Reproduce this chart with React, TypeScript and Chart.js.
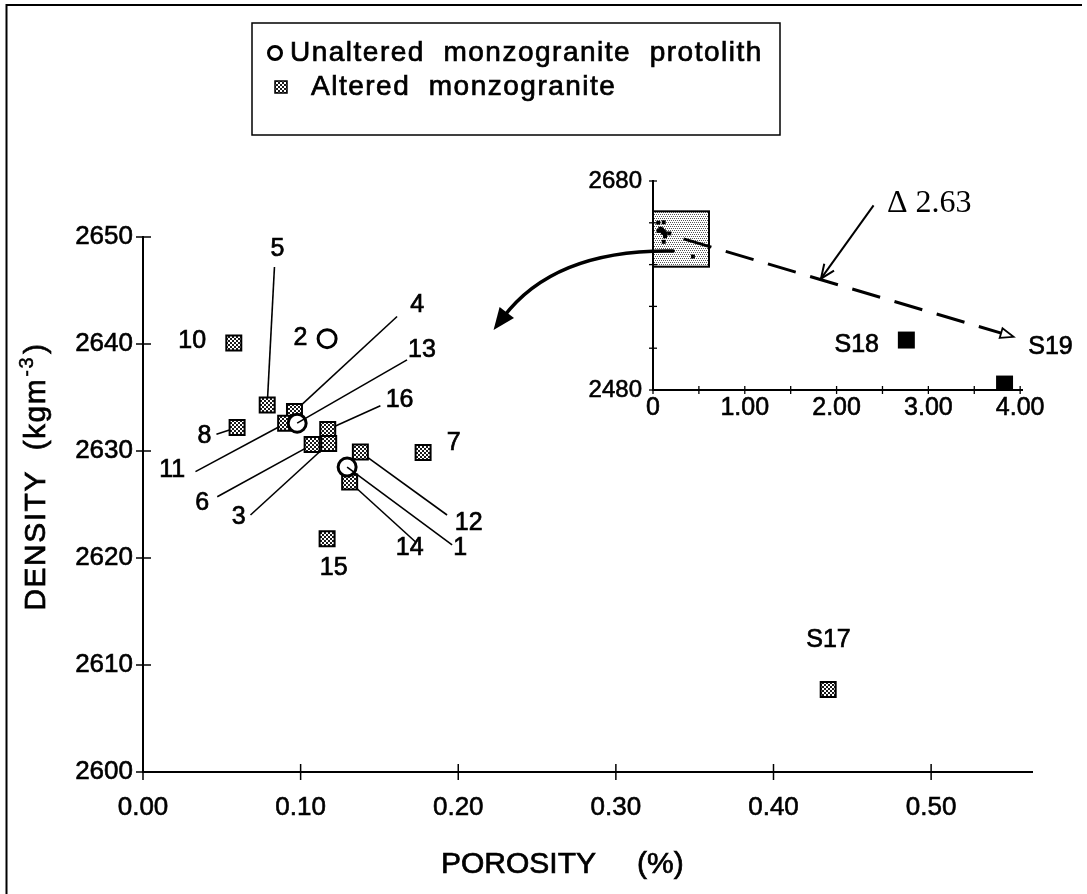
import React, { useEffect, useRef } from 'react';
import { Chart, registerables } from 'chart.js';

Chart.register(...registerables);

const FONT = '"Liberation Sans", Arial, Helvetica, sans-serif';
const SERIF = '"Liberation Serif", "Times New Roman", Times, serif';

// ---------------- data (main plot) ----------------
const unalteredLabels = ['2', '13', '1'];
const unalteredPorosity = [0.1168, 0.0978, 0.1295];
const unalteredDensity = [2640.5, 2632.6, 2628.5];

const alteredLabels = ['10', '5', '4', '8', '11', '16', '3', '6', '12', '7', '14', '15', 'S17'];
const alteredPorosity = [0.0576, 0.0788, 0.0961, 0.0597, 0.0905, 0.1172, 0.1178, 0.1073, 0.1379, 0.1777, 0.1311, 0.1168, 0.4347];
const alteredDensity = [2640.1, 2634.3, 2633.7, 2632.2, 2632.6, 2632.0, 2630.7, 2630.6, 2629.9, 2629.85, 2627.1, 2621.8, 2607.7];

const xTickLabels = ['0.00', '0.10', '0.20', '0.30', '0.40', '0.50'];
const yTickLabels = ['2600', '2610', '2620', '2630', '2640', '2650'];

// ---------------- data (inset) ----------------
const insetLabels = ['S18', 'S19'];
const insetPorosity = [2.76, 3.83];
const insetDensity = [2527.8, 2485.7];
const insetXTickLabels = ['0', '1.00', '2.00', '3.00', '4.00'];
const insetYTickLabels = ['2480', '2680'];
const deltaText = '\u0394 2.63';

// ---------------- annotation anchors (data units) ----------------
// x,y: label centre; lx,ly: start of the leader line (ends at the sample)
const labelAnchors: Record<string, { x: number; y: number; lx?: number; ly?: number }> = {
  '2': { x: 0.0999, y: 2640.58 },
  '13': { x: 0.177, y: 2639.39, lx: 0.1675, ly: 2638.52 },
  '1': { x: 0.2013, y: 2620.91, lx: 0.1961, ly: 2621.22 },
  '10': { x: 0.0312, y: 2640.23 },
  '5': { x: 0.0853, y: 2648.9, lx: 0.0834, ly: 2647.2 },
  '4': { x: 0.1739, y: 2643.67, lx: 0.1612, ly: 2642.57 },
  '8': { x: 0.039, y: 2631.35, lx: 0.0466, ly: 2631.57 },
  '11': { x: 0.0185, y: 2628.23, lx: 0.0333, ly: 2628.07 },
  '16': { x: 0.1628, y: 2634.71, lx: 0.1506, ly: 2634.22 },
  '3': { x: 0.0607, y: 2623.81, lx: 0.0682, ly: 2624.02 },
  '6': { x: 0.0375, y: 2625.14, lx: 0.0471, ly: 2625.73 },
  '12': { x: 0.2066, y: 2623.25, lx: 0.1929, ly: 2624.02 },
  '7': { x: 0.1971, y: 2630.73 },
  '14': { x: 0.1692, y: 2620.91, lx: 0.1728, ly: 2621.52 },
  '15': { x: 0.121, y: 2619.04 },
  S17: { x: 0.4349, y: 2612.33 },
};
const insetLabelAnchors: Record<string, { x: number; y: number }> = {
  S18: { x: 2.22, y: 2523 },
  S19: { x: 4.33, y: 2521 },
};
const insetBox = { x0: 0, x1: 0.61, y0: 2598, y1: 2651 };
const dashedArrow = { x0: 0.333, y0: 2624.6, x1: 3.928, y1: 2530.9 };
const deltaAnchor = { x: 3.01, y: 2658.7 };
const deltaArrow = { x0: 2.403, y0: 2656.7, x1: 1.83, y1: 2586.6 };
const curveStart = { x: 0.22, y: 2613 }; // inset units
const curveTip = { x: 0.2224, y: 2641.3 }; // main units

const W = 1087;
const H = 894;
const INSET_LEFT = 460;
const INSET_TOP = 150;
const INSET_W = 627;
const INSET_H = 300;

function stipple(kind: 'dark' | 'light'): CanvasPattern | string {
  const c = document.createElement('canvas');
  c.width = 4;
  c.height = 4;
  const g = c.getContext('2d');
  if (!g) return '#888';
  g.fillStyle = '#fff';
  g.fillRect(0, 0, 4, 4);
  if (kind === 'dark') {
    g.fillStyle = '#1a1a1a';
    g.fillRect(0, 0, 2, 2);
    g.fillRect(2, 2, 2, 2);
  } else {
    g.fillStyle = '#555';
    g.fillRect(0, 0, 1, 1);
    g.fillRect(2, 0, 1, 1);
    g.fillRect(1, 2, 1, 1);
    g.fillRect(3, 2, 1, 1);
  }
  return g.createPattern(c, 'repeat') || '#888';
}

function heavyText(ctx: CanvasRenderingContext2D, t: string, x: number, y: number, sw = 0.7) {
  ctx.fillText(t, x, y);
  ctx.save();
  ctx.lineWidth = sw;
  ctx.strokeStyle = ctx.fillStyle as any;
  ctx.strokeText(t, x, y);
  ctx.restore();
}

function arrowHead(
  ctx: CanvasRenderingContext2D,
  tipX: number,
  tipY: number,
  fromX: number,
  fromY: number,
  len: number,
  halfW: number,
  mode: 'fill' | 'open' | 'v'
) {
  const a = Math.atan2(tipY - fromY, tipX - fromX);
  const bx = tipX - len * Math.cos(a);
  const by = tipY - len * Math.sin(a);
  const px = -Math.sin(a) * halfW;
  const py = Math.cos(a) * halfW;
  ctx.beginPath();
  ctx.moveTo(bx + px, by + py);
  ctx.lineTo(tipX, tipY);
  ctx.lineTo(bx - px, by - py);
  if (mode !== 'v') ctx.closePath();
  if (mode === 'fill') ctx.fill();
  else if (mode === 'open') {
    ctx.fillStyle = '#fff';
    ctx.fill();
    ctx.stroke();
  } else ctx.stroke();
}

export default function App() {
  const mainRef = useRef<HTMLCanvasElement>(null);
  const insetRef = useRef<HTMLCanvasElement>(null);

  useEffect(() => {
    document.body.style.margin = '0';
    if (!mainRef.current || !insetRef.current) return;
    const darkPat = stipple('dark');
    const lightPat = stipple('light');

    const mainDecor = {
      id: 'mainDecor',
      beforeDatasetsDraw(chart: any) {
        const { ctx, scales } = chart;
        const x = scales.x;
        const y = scales.y;
        ctx.save();
        ctx.strokeStyle = '#000';
        ctx.lineWidth = 1.6;
        alteredLabels.forEach((lab, i) => {
          const p = labelAnchors[lab];
          if (p && p.lx !== undefined && p.ly !== undefined) {
            ctx.beginPath();
            ctx.moveTo(x.getPixelForValue(p.lx), y.getPixelForValue(p.ly));
            ctx.lineTo(x.getPixelForValue(alteredPorosity[i]), y.getPixelForValue(alteredDensity[i]));
            ctx.stroke();
          }
        });
        ctx.restore();
      },
      afterDatasetsDraw(chart: any) {
        const { ctx, scales, chartArea } = chart;
        const x = scales.x;
        const y = scales.y;
        ctx.save();
        ctx.strokeStyle = '#000';
        ctx.fillStyle = '#000';
        // leader lines for circles (drawn over the marker, to its centre)
        ctx.lineWidth = 1.6;
        unalteredLabels.forEach((lab, i) => {
          const p = labelAnchors[lab];
          if (p && p.lx !== undefined && p.ly !== undefined) {
            ctx.beginPath();
            ctx.moveTo(x.getPixelForValue(p.lx), y.getPixelForValue(p.ly));
            ctx.lineTo(x.getPixelForValue(unalteredPorosity[i]), y.getPixelForValue(unalteredDensity[i]));
            ctx.stroke();
          }
        });
        // sample labels
        ctx.font = `25px ${FONT}`;
        ctx.textAlign = 'center';
        ctx.textBaseline = 'middle';
        [...unalteredLabels, ...alteredLabels].forEach((lab) => {
          const p = labelAnchors[lab];
          if (p) heavyText(ctx, lab, x.getPixelForValue(p.x), y.getPixelForValue(p.y));
        });

        // crossing tick marks
        ctx.lineWidth = 1.5;
        x.ticks.forEach((t: any) => {
          const px = x.getPixelForValue(t.value);
          ctx.beginPath();
          ctx.moveTo(px, chartArea.bottom - 8);
          ctx.lineTo(px, chartArea.bottom + 8);
          ctx.stroke();
        });
        y.ticks.forEach((t: any) => {
          const py = y.getPixelForValue(t.value);
          ctx.beginPath();
          ctx.moveTo(chartArea.left - 7, py);
          ctx.lineTo(chartArea.left + 8, py);
          ctx.stroke();
        });

        // x title
        ctx.font = `30px ${FONT}`;
        ctx.textBaseline = 'middle';
        ctx.textAlign = 'left';
        heavyText(ctx, 'POROSITY', chartArea.left + 298, 865);
        heavyText(ctx, '(%)', chartArea.left + 494, 865);

        // y title (rotated, with superscript)
        ctx.translate(45, (chartArea.top + chartArea.bottom) / 2 - 28);
        ctx.rotate(-Math.PI / 2);
        (ctx as any).letterSpacing = '1.5px';
        ctx.textBaseline = 'alphabetic';
        ctx.font = `30px ${FONT}`;
        const a = 'DENSITY  (kgm';
        const wa = ctx.measureText(a).width;
        ctx.font = `20px ${FONT}`;
        const ws = ctx.measureText('-3').width;
        ctx.font = `30px ${FONT}`;
        const wc = ctx.measureText(')').width;
        let x0 = -(wa + ws + wc + 3) / 2;
        heavyText(ctx, a, x0, 0);
        x0 += wa + 1;
        ctx.font = `20px ${FONT}`;
        heavyText(ctx, '-3', x0, -12, 0.5);
        x0 += ws + 2;
        ctx.font = `30px ${FONT}`;
        heavyText(ctx, ')', x0, 0);
        ctx.restore();

        // legend box
        ctx.save();
        ctx.fillStyle = '#fff';
        ctx.strokeStyle = '#000';
        ctx.lineWidth = 1.5;
        ctx.fillRect(252, 23, 528, 112);
        ctx.strokeRect(252, 23, 528, 112);
        ctx.beginPath();
        ctx.arc(275, 53, 6.5, 0, Math.PI * 2);
        ctx.lineWidth = 3;
        ctx.stroke();
        ctx.fillStyle = darkPat as any;
        ctx.fillRect(275, 81, 12, 12);
        ctx.lineWidth = 1.5;
        ctx.strokeRect(275, 81, 12, 12);
        ctx.fillStyle = '#000';
        (ctx as any).letterSpacing = '1.5px';
        ctx.font = `28px ${FONT}`;
        ctx.textBaseline = 'middle';
        ctx.textAlign = 'left';
        heavyText(ctx, chart.data.datasets[0].label, 290, 53);
        heavyText(ctx, chart.data.datasets[1].label, 311, 87);
        ctx.restore();

        // figure frame (left & top)
        ctx.save();
        ctx.strokeStyle = '#000';
        ctx.lineWidth = 2;
        ctx.beginPath();
        ctx.moveTo(1082, 5);
        ctx.lineTo(6.5, 5);
        ctx.lineTo(6.5, H);
        ctx.stroke();
        ctx.restore();
      },
    };

    const tickFont = (size: number) => ({ family: FONT, size });

    const main = new Chart(mainRef.current, {
      type: 'scatter',
      data: {
        datasets: [
          {
            label: 'Unaltered  monzogranite  protolith',
            data: unalteredPorosity.map((v, i) => ({ x: v, y: unalteredDensity[i] })),
            pointStyle: 'circle',
            pointRadius: 9,
            pointBorderWidth: 3,
            pointBackgroundColor: '#fff',
            pointBorderColor: '#000',
          },
          {
            label: 'Altered  monzogranite',
            data: alteredPorosity.map((v, i) => ({ x: v, y: alteredDensity[i] })),
            pointStyle: 'rect',
            pointRadius: 10.6,
            pointBorderWidth: 2,
            pointBackgroundColor: darkPat as any,
            pointBorderColor: '#000',
          },
        ],
      },
      options: {
        responsive: false,
        animation: false,
        devicePixelRatio: 1,
        events: [],
        layout: { padding: { left: 0, top: 237, right: 55, bottom: 0 } },
        plugins: { legend: { display: false }, tooltip: { enabled: false } },
        scales: {
          x: {
            type: 'linear',
            min: 0,
            max: 0.564,
            afterFit: (s: any) => {
              s.height = 122;
            },
            grid: { display: false, drawTicks: false },
            border: { display: true, color: '#000', width: 2 },
            ticks: {
              stepSize: 0.1,
              includeBounds: false,
              padding: 20,
              autoSkip: false,
              maxRotation: 0,
              color: '#000',
              textStrokeColor: '#000',
              textStrokeWidth: 0.6,
              font: tickFont(26),
              callback: (v: any) => xTickLabels[Math.round(Number(v) * 10)] ?? null,
            },
          },
          y: {
            type: 'linear',
            min: 2600,
            max: 2650,
            afterFit: (s: any) => {
              s.width = 143;
            },
            grid: { display: false, drawTicks: false },
            border: { display: true, color: '#000', width: 2 },
            ticks: {
              stepSize: 10,
              padding: 10,
              color: '#000',
              textStrokeColor: '#000',
              textStrokeWidth: 0.6,
              font: tickFont(26),
              callback: (v: any) => yTickLabels[Math.round((Number(v) - 2600) / 10)] ?? null,
            },
          },
        },
      },
      plugins: [mainDecor],
    } as any);

    const insetDecor = {
      id: 'insetDecor',
      beforeDatasetsDraw(chart: any) {
        const { ctx, scales } = chart;
        const x = scales.x;
        const y = scales.y;
        const bx0 = x.getPixelForValue(insetBox.x0);
        const bx1 = x.getPixelForValue(insetBox.x1);
        const by0 = y.getPixelForValue(insetBox.y1);
        const by1 = y.getPixelForValue(insetBox.y0);
        ctx.save();
        ctx.fillStyle = lightPat as any;
        ctx.fillRect(bx0, by0, bx1 - bx0, by1 - by0);
        ctx.strokeStyle = '#000';
        ctx.lineWidth = 2;
        ctx.strokeRect(bx0, by0, bx1 - bx0, by1 - by0);
        ctx.restore();
      },
      afterDatasetsDraw(chart: any) {
        const { ctx, scales, chartArea } = chart;
        const x = scales.x;
        const y = scales.y;
        ctx.save();
        ctx.strokeStyle = '#000';
        ctx.fillStyle = '#000';

        // crossing ticks
        ctx.lineWidth = 1.3;
        x.ticks.forEach((t: any) => {
          const px = x.getPixelForValue(t.value);
          ctx.beginPath();
          ctx.moveTo(px, chartArea.bottom - 4);
          ctx.lineTo(px, chartArea.bottom + 4);
          ctx.stroke();
        });
        y.ticks.forEach((t: any) => {
          const py = y.getPixelForValue(t.value);
          ctx.beginPath();
          ctx.moveTo(chartArea.left - 4, py);
          ctx.lineTo(chartArea.left + 4, py);
          ctx.stroke();
        });

        // dashed arrow to S19
        const dx0 = x.getPixelForValue(dashedArrow.x0);
        const dy0 = y.getPixelForValue(dashedArrow.y0);
        const dx1 = x.getPixelForValue(dashedArrow.x1);
        const dy1 = y.getPixelForValue(dashedArrow.y1);
        const ang = Math.atan2(dy1 - dy0, dx1 - dx0);
        ctx.lineWidth = 3;
        ctx.setLineDash([29, 15]);
        ctx.beginPath();
        ctx.moveTo(dx0, dy0);
        ctx.lineTo(dx1 - 12 * Math.cos(ang), dy1 - 12 * Math.sin(ang));
        ctx.stroke();
        ctx.setLineDash([]);
        ctx.lineWidth = 1.8;
        arrowHead(ctx, dx1, dy1, dx0, dy0, 13, 5, 'open');

        // delta arrow
        ctx.fillStyle = '#000';
        const ax0 = x.getPixelForValue(deltaArrow.x0);
        const ay0 = y.getPixelForValue(deltaArrow.y0);
        const ax1 = x.getPixelForValue(deltaArrow.x1);
        const ay1 = y.getPixelForValue(deltaArrow.y1);
        ctx.lineWidth = 2;
        ctx.beginPath();
        ctx.moveTo(ax0, ay0);
        ctx.lineTo(ax1, ay1);
        ctx.stroke();
        arrowHead(ctx, ax1, ay1, ax0, ay0, 14, 6, 'v');

        // texts
        ctx.font = `25px ${FONT}`;
        ctx.textAlign = 'center';
        ctx.textBaseline = 'middle';
        insetLabels.forEach((lab) => {
          const p = insetLabelAnchors[lab];
          heavyText(ctx, lab, x.getPixelForValue(p.x), y.getPixelForValue(p.y));
        });
        ctx.font = `32px ${SERIF}`;
        ctx.fillText(deltaText, x.getPixelForValue(deltaAnchor.x), y.getPixelForValue(deltaAnchor.y));

        // curved arrow towards the main plot
        const sx = x.getPixelForValue(curveStart.x);
        const sy = y.getPixelForValue(curveStart.y);
        const tx = main.scales.x.getPixelForValue(curveTip.x) - INSET_LEFT;
        const ty = main.scales.y.getPixelForValue(curveTip.y) - INSET_TOP;
        const cx = tx + 0.34 * (sx - tx);
        const cy = sy - 2;
        const a2 = Math.atan2(ty - cy, tx - cx);
        ctx.lineWidth = 3.5;
        ctx.lineCap = 'round';
        ctx.beginPath();
        ctx.moveTo(sx, sy);
        ctx.quadraticCurveTo(cx, cy, tx - 16 * Math.cos(a2), ty - 16 * Math.sin(a2));
        ctx.stroke();
        arrowHead(ctx, tx, ty, cx, cy, 22, 9, 'fill');
        ctx.restore();
      },
    };

    const inset = new Chart(insetRef.current, {
      type: 'scatter',
      data: {
        datasets: [
          {
            label: 'S samples',
            data: insetPorosity.map((v, i) => ({ x: v, y: insetDensity[i] })),
            pointStyle: 'rect',
            pointRadius: 12,
            pointBorderWidth: 0,
            pointBackgroundColor: '#000',
            pointBorderColor: '#000',
          },
          {
            label: 'monzogranite',
            data: [
              ...unalteredPorosity.map((v, i) => ({ x: v, y: unalteredDensity[i] })),
              ...alteredPorosity.map((v, i) => ({ x: v, y: alteredDensity[i] })),
            ],
            pointStyle: 'rect',
            pointRadius: 2.8,
            pointBorderWidth: 0,
            pointBackgroundColor: '#000',
            pointBorderColor: '#000',
          },
        ],
      },
      options: {
        responsive: false,
        animation: false,
        devicePixelRatio: 1,
        events: [],
        layout: { padding: { left: 0, top: 31, right: 65, bottom: 0 } },
        plugins: { legend: { display: false }, tooltip: { enabled: false } },
        scales: {
          x: {
            type: 'linear',
            min: 0,
            max: 4.02,
            afterFit: (s: any) => {
              s.height = 60;
            },
            grid: { display: false, drawTicks: false },
            border: { display: true, color: '#000', width: 2 },
            ticks: {
              stepSize: 0.5,
              includeBounds: false,
              padding: 3,
              autoSkip: false,
              maxRotation: 0,
              color: '#000',
              textStrokeColor: '#000',
              textStrokeWidth: 0.6,
              font: tickFont(25),
              callback: (v: any) => {
                const n = Number(v);
                return Math.abs(n - Math.round(n)) < 1e-6 ? insetXTickLabels[Math.round(n)] ?? '' : '';
              },
            },
          },
          y: {
            type: 'linear',
            min: 2480,
            max: 2680,
            afterFit: (s: any) => {
              s.width = 193;
            },
            grid: { display: false, drawTicks: false },
            border: { display: true, color: '#000', width: 2 },
            ticks: {
              stepSize: 40,
              padding: 11,
              autoSkip: false,
              color: '#000',
              textStrokeColor: '#000',
              textStrokeWidth: 0.6,
              font: tickFont(24),
              callback: (v: any) => {
                const n = Number(v);
                if (n === 2480) return insetYTickLabels[0];
                if (n === 2680) return insetYTickLabels[1];
                return '';
              },
            },
          },
        },
      },
      plugins: [insetDecor],
    } as any);

    return () => {
      inset.destroy();
      main.destroy();
    };
  }, []);

  return (
    <div style={{ position: 'absolute', left: 0, top: 0, width: W, height: H, background: '#fff', overflow: 'hidden' }}>
      <canvas
        ref={mainRef}
        width={W}
        height={H}
        style={{ position: 'absolute', left: 0, top: 0, width: W, height: H }}
      />
      <canvas
        ref={insetRef}
        width={INSET_W}
        height={INSET_H}
        style={{ position: 'absolute', left: INSET_LEFT, top: INSET_TOP, width: INSET_W, height: INSET_H }}
      />
    </div>
  );
}
